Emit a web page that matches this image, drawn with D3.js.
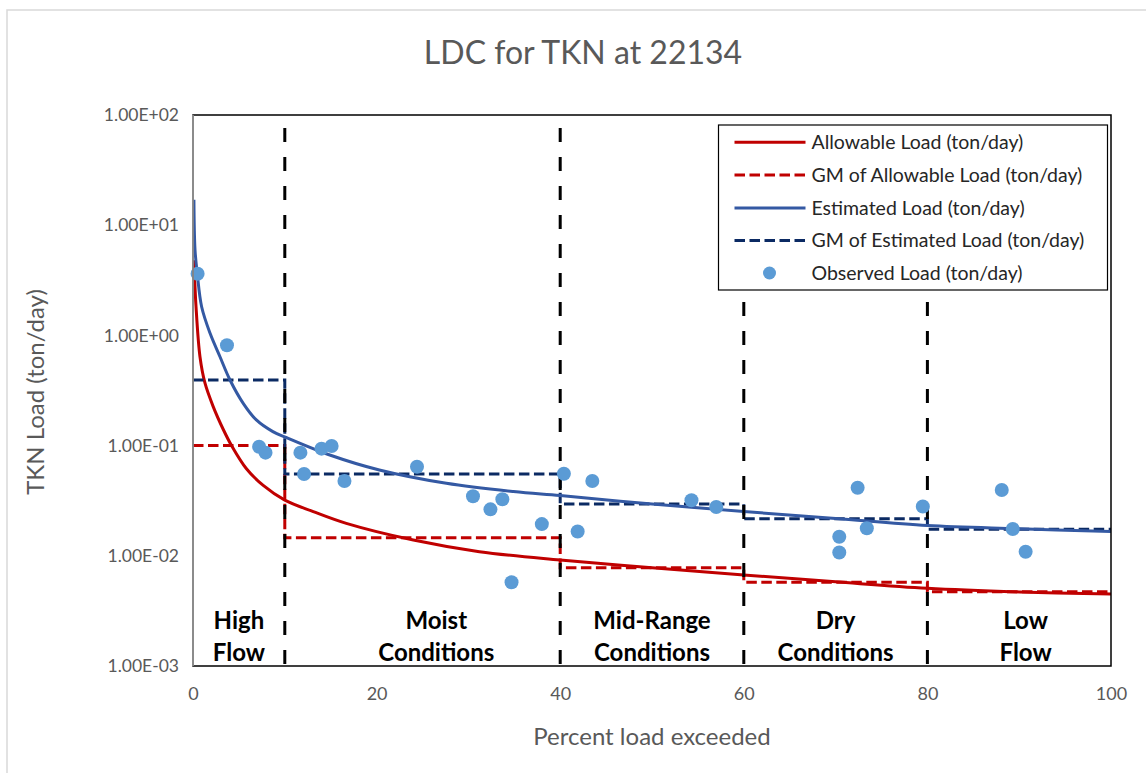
<!DOCTYPE html>
<html><head><meta charset="utf-8">
<script src="https://cdn.jsdelivr.net/npm/d3@7"></script>
<style>body{margin:0;background:#fff;} svg{display:block;} text{font-family:Lato,"Open Sans",sans-serif;}</style>
</head><body><svg id="c" width="1146" height="773"></svg>
<script>
// ---- data ----
const xTicks = [0, 20, 40, 60, 80, 100];
const yTicks = [1e-3, 1e-2, 1e-1, 1e0, 1e1, 1e2];
const yTickLabels = ["1.00E-03", "1.00E-02", "1.00E-01", "1.00E+00", "1.00E+01", "1.00E+02"];

const estPct = [0.1, 0.22, 0.47, 0.94, 1.85, 2.94, 4.03, 5.47, 6.9, 8.7, 10.2, 14.9, 20.3, 27.6, 34.9, 40, 50, 60, 70, 80, 90, 100];
const estVal = [17, 5.96, 3.6, 1.82, 1.05, 0.64, 0.394, 0.242, 0.171, 0.134, 0.118, 0.0822, 0.0601, 0.0455, 0.0383, 0.0352, 0.0295, 0.0252, 0.0218, 0.0188, 0.0176, 0.0166];

const allowPct = [0.1, 0.33, 0.76, 1.3, 2.2, 3.3, 4.2, 5.8, 7.65, 10, 13.1, 16.7, 24, 31.2, 40, 50, 60, 70, 80, 90, 100];
const allowVal = [4.8, 1.82, 0.64, 0.37, 0.226, 0.14, 0.1, 0.062, 0.0435, 0.032, 0.0252, 0.0197, 0.0139, 0.0109, 0.00916, 0.0078, 0.0067, 0.0058, 0.00507, 0.0047, 0.0045];

const zoneBounds = [0, 10, 40, 60, 80, 100];
const gmAllow = [0.1, 0.0146, 0.0078, 0.00575, 0.00473];
const gmEst = [0.394, 0.0552, 0.0295, 0.0217, 0.0174];

const obsPct = [0.5, 3.7, 7.2, 7.9, 11.7, 12.1, 14.0, 15.1, 16.5, 24.4, 30.5, 32.4, 33.7, 34.7, 38.0, 40.4, 41.9, 43.5, 54.3, 57.0, 70.4, 70.4, 72.4, 73.4, 79.5, 88.1, 89.3, 90.7];
const obsVal = [3.63, 0.813, 0.0977, 0.0863, 0.0863, 0.0552, 0.0938, 0.0991, 0.0477, 0.0643, 0.0347, 0.0264, 0.0326, 0.00575, 0.0194, 0.0556, 0.0166, 0.0477, 0.0319, 0.0277, 0.0149, 0.0107, 0.0415, 0.0178, 0.028, 0.0395, 0.0175, 0.0109];

const zoneLines = [10, 40, 60, 80];
const zoneLabels = [["High", "Flow"], ["Moist", "Conditions"], ["Mid-Range", "Conditions"], ["Dry", "Conditions"], ["Low", "Flow"]];
const zoneLabelPct = [5, 26.5, 50, 70, 90.7];

const legendNames = ["Allowable Load (ton/day)", "GM of Allowable Load (ton/day)", "Estimated Load (ton/day)", "GM of Estimated Load (ton/day)", "Observed Load (ton/day)"];

// ---- drawing ----
const svg = d3.select("#c");
const L = 193, R = 1111, T = 115, B = 666;
const x = d3.scaleLinear().domain([0, 100]).range([L, R]);
const y = d3.scaleLog().domain([1e-3, 1e2]).range([B, T]);

const RED = "#c00000", BLUE = "#3459a3", NAVY = "#0b2a63", DOT = "#5b9bd5", GRAY = "#595959";
const FONT = "Lato,'Open Sans',sans-serif";

// outer chart border
svg.append("rect").attr("x", 7).attr("y", 10).attr("width", 1160).attr("height", 800)
  .attr("fill", "#fff").attr("stroke", "#d9d9d9").attr("stroke-width", 1.5);

// title
svg.append("text").attr("x", 583).attr("y", 64).attr("text-anchor", "middle")
  .attr("font-size", 32).attr("fill", GRAY).text("LDC for TKN at 22134");

const g = svg.append("g");
const clip = svg.append("clipPath").attr("id", "pc");
clip.append("rect").attr("x", L).attr("y", T).attr("width", R - L).attr("height", B - T);

// y axis labels
const yAxis = d3.axisLeft(y).tickValues(yTicks).tickFormat((d, i) => yTickLabels[i]).tickSize(0).tickPadding(14);
const ya = g.append("g").attr("transform", `translate(${L},0)`).call(yAxis);
ya.select(".domain").remove();
ya.selectAll("text").attr("font-size", 17.5).attr("fill", GRAY).style("font-family", FONT);

// x axis labels
const xAxis = d3.axisBottom(x).tickValues(xTicks).tickSize(0).tickPadding(21);
const xa = g.append("g").attr("transform", `translate(0,${B})`).call(xAxis);
xa.select(".domain").remove();
xa.selectAll("text").attr("font-size", 18).attr("fill", GRAY).style("font-family", FONT);

// axis titles
svg.append("text").attr("x", 652).attr("y", 745).attr("text-anchor", "middle")
  .attr("font-size", 24).attr("fill", GRAY).text("Percent load exceeded");
svg.append("text").attr("transform", "translate(44,392) rotate(-90)").attr("text-anchor", "middle")
  .attr("font-size", 24).attr("fill", GRAY).text("TKN Load (ton/day)");

const plot = svg.append("g").attr("clip-path", "url(#pc)");

const line = d3.line().x(d => x(d[0])).y(d => y(d[1])).curve(d3.curveCatmullRom.alpha(0.5));
const stepLine = d3.line().x(d => x(d[0])).y(d => y(d[1]));

function steps(vals) {
  const pts = [];
  vals.forEach((v, i) => { pts.push([zoneBounds[i], v]); pts.push([zoneBounds[i + 1], v]); });
  return pts;
}

// GM allowable
plot.append("path").attr("d", stepLine(steps(gmAllow))).attr("fill", "none")
  .attr("stroke", RED).attr("stroke-width", 3).attr("stroke-dasharray", "10.5,4.5");
// allowable
plot.append("path").attr("d", line(allowPct.map((p, i) => [p, allowVal[i]]))).attr("fill", "none")
  .attr("stroke", RED).attr("stroke-width", 3);
// GM estimated
plot.append("path").attr("d", stepLine(steps(gmEst))).attr("fill", "none")
  .attr("stroke", NAVY).attr("stroke-width", 3).attr("stroke-dasharray", "10.5,4.5");
// estimated
plot.append("path").attr("d", line(estPct.map((p, i) => [p, estVal[i]]))).attr("fill", "none")
  .attr("stroke", BLUE).attr("stroke-width", 3);

// zone boundary lines
zoneLines.forEach(z => {
  plot.append("line").attr("x1", x(z)).attr("x2", x(z)).attr("y1", 128).attr("y2", B)
    .attr("stroke", "#000").attr("stroke-width", 3).attr("stroke-dasharray", "14,15");
});

// observed points
svg.append("g").selectAll("circle").data(obsPct.map((p, i) => [p, obsVal[i]])).join("circle")
  .attr("cx", d => x(d[0])).attr("cy", d => y(d[1])).attr("r", 7).attr("fill", DOT);

// plot border
svg.append("rect").attr("x", L).attr("y", T).attr("width", R - L).attr("height", B - T)
  .attr("fill", "none").attr("stroke", "#000").attr("stroke-width", 1.5);
svg.append("line").attr("x1", L).attr("x2", L).attr("y1", T).attr("y2", B)
  .attr("stroke", "#a6a6a6").attr("stroke-width", 1.5);

// zone labels
zoneLabels.forEach((lab, i) => {
  const cx = x(zoneLabelPct[i]);
  lab.forEach((t, j) => {
    svg.append("text").attr("x", cx).attr("y", 629 + j * 32).attr("text-anchor", "middle")
      .attr("font-size", 24).attr("font-weight", "bold").attr("fill", "#000").text(t);
  });
});

// legend
const lg = svg.append("g");
lg.append("rect").attr("x", 718.5).attr("y", 125).attr("width", 389).attr("height", 165)
  .attr("fill", "#fff").attr("stroke", "#000").attr("stroke-width", 1.2);
const legY = [142.3, 175, 208, 240.5, 273];
const legStyles = [
  {c: RED, dash: null}, {c: RED, dash: "10.5,4.5"}, {c: BLUE, dash: null}, {c: NAVY, dash: "10.5,4.5"}, {c: DOT, dot: true}
];
legendNames.forEach((n, i) => {
  const s = legStyles[i];
  if (s.dot) {
    lg.append("circle").attr("cx", 769.5).attr("cy", legY[i]).attr("r", 6.5).attr("fill", s.c);
  } else {
    lg.append("line").attr("x1", 734.5).attr("x2", 805.5).attr("y1", legY[i]).attr("y2", legY[i])
      .attr("stroke", s.c).attr("stroke-width", 3).attr("stroke-dasharray", s.dash);
  }
  lg.append("text").attr("x", 811.5).attr("y", legY[i] + 6.5).attr("font-size", 19.5).attr("fill", "#262626").text(n);
});
</script></body></html>
